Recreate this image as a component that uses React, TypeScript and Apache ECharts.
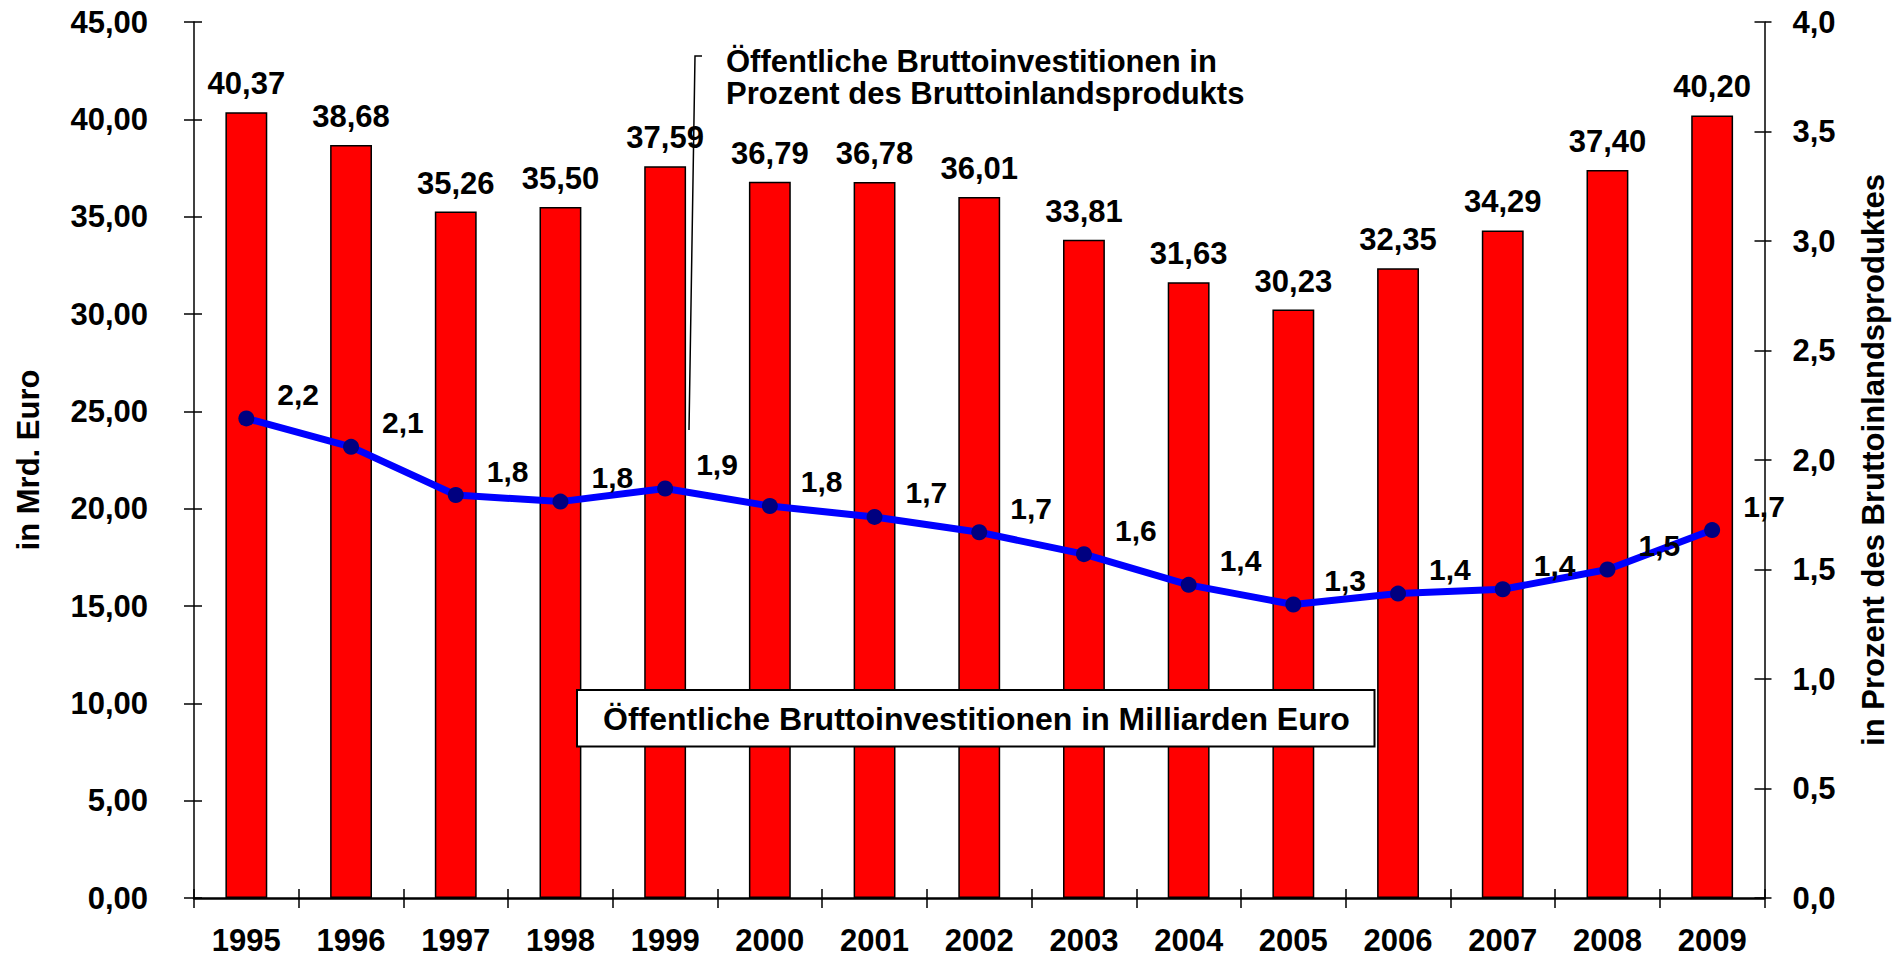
import React, { useEffect, useRef } from "react";
import * as echarts from "echarts";

const years = ["1995", "1996", "1997", "1998", "1999", "2000", "2001", "2002", "2003", "2004", "2005", "2006", "2007", "2008", "2009"];
const investBillionEuro = [40.37, 38.68, 35.26, 35.5, 37.59, 36.79, 36.78, 36.01, 33.81, 31.63, 30.23, 32.35, 34.29, 37.4, 40.2];
const investPctOfGdp = [2.19, 2.06, 1.84, 1.81, 1.87, 1.79, 1.74, 1.67, 1.57, 1.43, 1.34, 1.39, 1.41, 1.5, 1.68];

const leftAxisMax = 45;
const leftAxisStep = 5;
const rightAxisMax = 4;
const rightAxisStep = 0.5;

const leftAxisName = "in Mrd. Euro";
const rightAxisName = "in Prozent des Bruttoinlandsproduktes";
const lineNote = "Öffentliche Bruttoinvestitionen in\nProzent des Bruttoinlandsprodukts";
const barNote = "Öffentliche Bruttoinvestitionen in Milliarden Euro";

const FONT = 'Arial, "Liberation Sans", sans-serif';
const comma = (v: number, d: number) => v.toFixed(d).replace(".", ",");

export default function App() {
  const ref = useRef<HTMLDivElement>(null);
  useEffect(() => {
    if (!ref.current) return;
    const chart = echarts.init(ref.current, null, { renderer: "svg" });
    const txt = { fontFamily: FONT, fontWeight: "bold" as const, color: "#000" };
    chart.setOption({
      animation: false,
      backgroundColor: "#fff",
      grid: { left: 194, right: 136.5, top: 22, bottom: 62 },
      xAxis: [
        {
          type: "category",
          data: years,
          position: "bottom",
          axisLine: { show: true, lineStyle: { color: "#000", width: 2.5 } },
          axisTick: { show: true, inside: false, length: 10, lineStyle: { color: "#000", width: 1.5 } },
          axisLabel: { ...txt, fontSize: 31, margin: 27 },
          splitLine: { show: false },
        },
        {
          type: "category",
          data: years,
          position: "bottom",
          axisLine: { show: false },
          axisTick: { show: true, inside: true, length: 9, lineStyle: { color: "#000", width: 1.5 } },
          axisLabel: { show: false },
          splitLine: { show: false },
        },
      ],
      yAxis: [
        {
          type: "value",
          position: "left",
          min: 0,
          max: leftAxisMax,
          interval: leftAxisStep,
          name: leftAxisName,
          nameLocation: "middle",
          nameGap: 150,
          nameTextStyle: { ...txt, fontSize: 31 },
          axisLine: { show: true, lineStyle: { color: "#000", width: 1.5 } },
          axisTick: { show: true, inside: false, length: 10, lineStyle: { color: "#000", width: 1.5 } },
          axisLabel: { ...txt, fontSize: 31, margin: 46, formatter: (v: number) => comma(v, 2) },
          splitLine: { show: false },
        },
        {
          type: "value",
          position: "right",
          min: 0,
          max: rightAxisMax,
          interval: rightAxisStep,
          name: rightAxisName,
          nameLocation: "middle",
          nameGap: 93,
          nameTextStyle: { ...txt, fontSize: 31 },
          axisLine: { show: true, lineStyle: { color: "#000", width: 1.5 } },
          axisTick: { show: true, inside: false, length: 7, lineStyle: { color: "#000", width: 1.5 } },
          axisLabel: { ...txt, fontSize: 31, margin: 28, formatter: (v: number) => comma(v, 1) },
          splitLine: { show: false },
        },
        {
          type: "value",
          position: "left",
          min: 0,
          max: leftAxisMax,
          interval: leftAxisStep,
          axisLine: { show: false },
          axisTick: { show: true, inside: true, length: 8, lineStyle: { color: "#000", width: 1.5 } },
          axisLabel: { show: false },
          splitLine: { show: false },
        },
        {
          type: "value",
          position: "right",
          min: 0,
          max: rightAxisMax,
          interval: rightAxisStep,
          axisLine: { show: false },
          axisTick: { show: true, inside: true, length: 10, lineStyle: { color: "#000", width: 1.5 } },
          axisLabel: { show: false },
          splitLine: { show: false },
        },
      ],
      series: [
        {
          type: "bar",
          xAxisIndex: 0,
          yAxisIndex: 0,
          data: investBillionEuro,
          barWidth: "40%",
          itemStyle: { color: "#ff0000", borderColor: "#000", borderWidth: 1.5 },
          label: {
            show: true,
            position: "top",
            distance: 13,
            ...txt,
            fontSize: 31,
            formatter: (p: any) => comma(p.value, 2),
          },
          z: 2,
        },
        {
          type: "line",
          xAxisIndex: 0,
          yAxisIndex: 1,
          data: investPctOfGdp,
          symbol: "circle",
          symbolSize: 16,
          itemStyle: { color: "#000080" },
          lineStyle: { color: "#0000ff", width: 7 },
          label: {
            show: true,
            position: "right",
            distance: 23,
            offset: [0, -24],
            ...txt,
            fontSize: 30,
            formatter: (p: any) => comma(p.value, 1),
          },
          z: 5,
        },
      ],
      graphic: [
        {
          type: "polyline",
          shape: { points: [[702, 56], [695, 56], [689, 430]] },
          style: { stroke: "#000", lineWidth: 1.5, fill: "none" },
          z: 10,
        },
        {
          type: "text",
          x: 726,
          y: 45,
          style: {
            text: lineNote,
            fontFamily: FONT,
            fontWeight: "bold",
            fontSize: 31,
            lineHeight: 32,
            fill: "#000",
            verticalAlign: "top",
          },
          z: 10,
        },
        {
          type: "rect",
          shape: { x: 577, y: 690, width: 797.5, height: 56.5 },
          style: { fill: "#fff", stroke: "#000", lineWidth: 2 },
          z: 10,
        },
        {
          type: "text",
          x: 603,
          y: 719,
          style: {
            text: barNote,
            fontFamily: FONT,
            fontWeight: "bold",
            fontSize: 32,
            fill: "#000",
            verticalAlign: "middle",
          },
          z: 11,
        },
      ],
    });
    return () => chart.dispose();
  }, []);
  return (
    <div
      ref={ref}
      style={{ position: "fixed", left: 0, top: 0, width: 1901, height: 960, background: "#fff" }}
    />
  );
}
